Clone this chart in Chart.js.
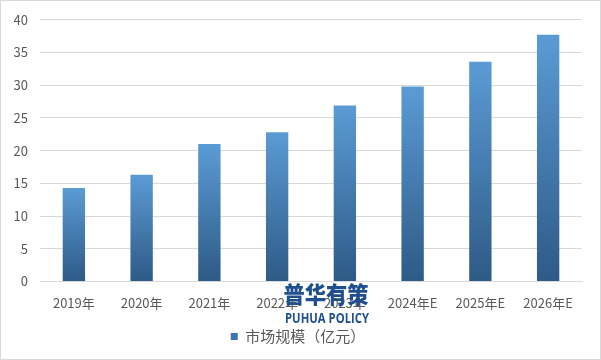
<!DOCTYPE html>
<html>
<head>
<meta charset="utf-8">
<script src="https://cdn.jsdelivr.net/npm/chart.js@4"></script>
<style>
html,body{margin:0;padding:0;background:#fff;}
#c{display:block;}
</style>
</head>
<body>
<canvas id="c" width="601" height="360"></canvas>
<script>
const categories = ['2019年','2020年','2021年','2022年','2023年','2024年E','2025年E','2026年E'];
const marketSize = [14.3, 16.3, 21.0, 22.8, 26.9, 29.8, 33.6, 37.7];
const seriesName = '市场规模（亿元）';
const yTicks = [0, 5, 10, 15, 20, 25, 30, 35, 40];
const watermarkCn = '普华有策';
const watermarkEn = 'PUHUA POLICY';

const FONT = '"Noto Sans CJK SC", "Noto Sans", sans-serif';

function barGradient(ctx) {
  const chart = ctx.chart;
  const area = chart.chartArea;
  if (!area) return '#4a86c3';
  if (ctx.type !== 'data') return '#3f76ae';
  const y = chart.scales.y;
  const top = y.getPixelForValue(ctx.parsed.y);
  const bottom = y.getPixelForValue(0);
  const g = chart.ctx.createLinearGradient(0, top, 0, bottom);
  g.addColorStop(0, '#5b9bd5');
  g.addColorStop(1, '#2e5a86');
  return g;
}

function fitText(c, text, cx, cy, width) {
  const w = c.measureText(text).width;
  c.save();
  c.translate(cx, cy);
  c.scale(width / w, 1);
  c.fillText(text, 0, 0);
  c.restore();
}

const overlay = {
  id: 'overlay',
  afterDraw(chart) {
    const c = chart.ctx;
    c.save();
    c.strokeStyle = '#d9d9d9';
    c.lineWidth = 1;
    c.strokeRect(0.5, 0.5, chart.width - 1, chart.height - 1);
    c.fillStyle = '#1f4f8f';
    c.textAlign = 'center';
    c.textBaseline = 'middle';
    c.font = '900 23px ' + FONT;
    fitText(c, watermarkCn, 326, 294, 85);
    c.font = 'bold 14px "Open Sans", "Liberation Sans", sans-serif';
    fitText(c, watermarkEn, 327, 319, 84);
    c.restore();
  }
};

new Chart(document.getElementById('c'), {
  type: 'bar',
  data: {
    labels: categories,
    datasets: [{
      label: seriesName,
      data: marketSize,
      backgroundColor: barGradient,
      categoryPercentage: 1,
      barPercentage: 0.33
    }]
  },
  options: {
    responsive: false,
    animation: false,
    devicePixelRatio: 1,
    layout: { padding: { left: 14, right: 19, top: 11, bottom: 6 } },
    plugins: {
      legend: {
        position: 'bottom',
        labels: {
          boxWidth: 7, boxHeight: 7,
          color: '#595959',
          font: { size: 15, family: FONT },
          padding: 12,
          generateLabels(chart) {
            const l = Chart.defaults.plugins.legend.labels.generateLabels(chart);
            l.forEach(i => { i.fillStyle = '#3f76ae'; i.strokeStyle = '#3f76ae'; i.lineWidth = 0; });
            return l;
          }
        }
      },
      tooltip: { enabled: false }
    },
    scales: {
      x: {
        grid: { display: false },
        border: { color: '#d9d9d9' },
        ticks: { color: '#595959', font: { size: 13, family: FONT }, maxRotation: 0, padding: 6 }
      },
      y: {
        min: 0, max: 40,
        afterBuildTicks(scale) { scale.ticks = yTicks.map(v => ({ value: v })); },
        grid: { color: '#d9d9d9', drawTicks: false },
        border: { display: false },
        ticks: { color: '#595959', font: { size: 13, family: FONT }, padding: 12 },
        afterFit(scale) { scale.width = 26; }
      }
    }
  },
  plugins: [overlay]
});
</script>
</body>
</html>
